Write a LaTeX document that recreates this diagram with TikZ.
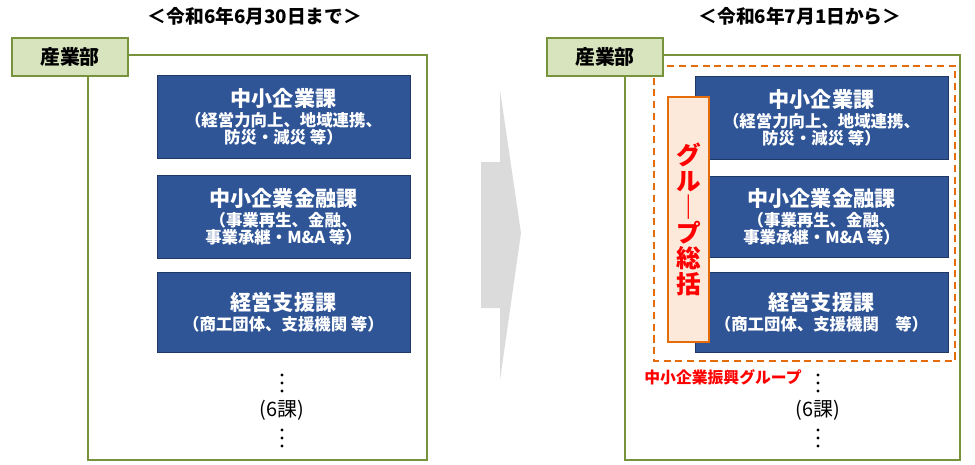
\documentclass[tikz,border=0pt]{standalone}
\usepackage{fontspec}
\setmainfont{Noto Sans CJK JP}
\usetikzlibrary{positioning}
\definecolor{kaBlue}{HTML}{2F5597}
\definecolor{kaEdge}{HTML}{1F3864}
\definecolor{kaGreen}{HTML}{77933C}
\definecolor{kaLight}{HTML}{D7E4BD}
\definecolor{kaOrange}{HTML}{E46C0A}
\definecolor{kaPeach}{HTML}{FDE9D9}
\definecolor{kaRed}{HTML}{FF0000}
\tikzset{
  kabox/.style={draw=kaEdge, thick, fill=kaBlue, text=white, font=\bfseries,
    minimum width=7.59cm, align=center, inner sep=2pt},
  kalabel/.style={draw=kaGreen, line width=1.5pt, fill=kaLight, font=\bfseries\fontsize{17}{19}\selectfont,
    minimum width=3.5cm, minimum height=1.15cm},
  kadot/.style={fill=black, circle, inner sep=0pt, minimum size=2.6pt},
}
\newcommand{\katitle}[1]{{\fontsize{18}{21}\selectfont #1}\\[2pt]}
\newcommand{\kasub}[1]{{\fontsize{14}{17}\selectfont #1}}
\begin{document}
\begin{tikzpicture}[x=0.03cm, y=-0.03cm]
  \useasboundingbox (0,0) rectangle (975,464);
  % titles
  \node[font=\bfseries\fontsize{16}{18}\selectfont] (tl) at (255,16) {＜令和6年6月30日まで＞};
  \node[font=\bfseries\fontsize{16}{18}\selectfont] (tr) at (800,16) {＜令和6年7月1日から＞};
  % left panel
  \draw[kaGreen, line width=1.5pt] (88,55) rectangle (427,460);
  \node[kalabel] (sl) at (70,57) {産業部};
  \node[kabox, minimum height=2.49cm] (l1) at (283.5,116.5) {\katitle{中小企業課}\kasub{（経営力向上、地域連携、}\\\kasub{防災・減災 等）}};
  \node[kabox, minimum height=2.49cm] (l2) at (283.5,216.5) {\katitle{中小企業金融課}\kasub{（事業再生、金融、}\\\kasub{事業承継・M\&A 等）}};
  \node[kabox, minimum height=2.4cm] (l3) at (283.5,312) {\katitle{経営支援課}\kasub{（商工団体、支援機関 等）}};
  \foreach \y in {375,383,391} \node[kadot] at (282,\y) {};
  \node[font=\fontsize{17}{19}\selectfont] (l6) at (282,410) {(6課)};
  \foreach \y in {430,438,446} \node[kadot] at (282,\y) {};
  % arrow
  \fill[gray!28] (481,162) -- (500,162) -- (500,90) -- (521,233) -- (500,380)
    -- (500,308) -- (481,308) -- cycle;
  % right panel
  \draw[kaGreen, line width=1.5pt] (625,55) rectangle (960,460);
  \draw[kaOrange, line width=1.5pt, dashed, dash pattern=on 6pt off 4pt] (654,66) rectangle (955,361);
  \node[kalabel] (sr) at (605,57) {産業部};
  \node[kabox, minimum height=2.49cm] (r1) at (821.5,118) {\katitle{中小企業課}\kasub{（経営力向上、地域連携、}\\\kasub{防災・減災 等）}};
  \node[kabox, minimum height=2.43cm] (r2) at (821.5,217) {\katitle{中小企業金融課}\kasub{（事業再生、金融、}\\\kasub{事業承継・M\&A 等）}};
  \node[kabox, minimum height=2.4cm] (r3) at (821.5,312) {\katitle{経営支援課}\kasub{（商工団体、支援機関　等）}};
  \node[draw=kaOrange, line width=1.5pt, fill=kaPeach, minimum width=1.23cm, minimum height=7.35cm,
    text=kaRed, font=\bfseries\fontsize{21}{23}\selectfont, align=center, inner sep=0pt] (gs) at (688.5,219.5)
    {グ\\[-1pt]ル\\[-1pt]｜\\[-1pt]プ\\[-1pt]総\\[-1pt]括};
  \node[text=kaRed, font=\bfseries\fontsize{13.5}{15}\selectfont] (gn) at (723,377) {中小企業振興グループ};
  \foreach \y in {375,383,391} \node[kadot] at (818,\y) {};
  \node[font=\fontsize{17}{19}\selectfont] (r6) at (818,410) {(6課)};
  \foreach \y in {430,438,446} \node[kadot] at (818,\y) {};
\end{tikzpicture}
\end{document}
